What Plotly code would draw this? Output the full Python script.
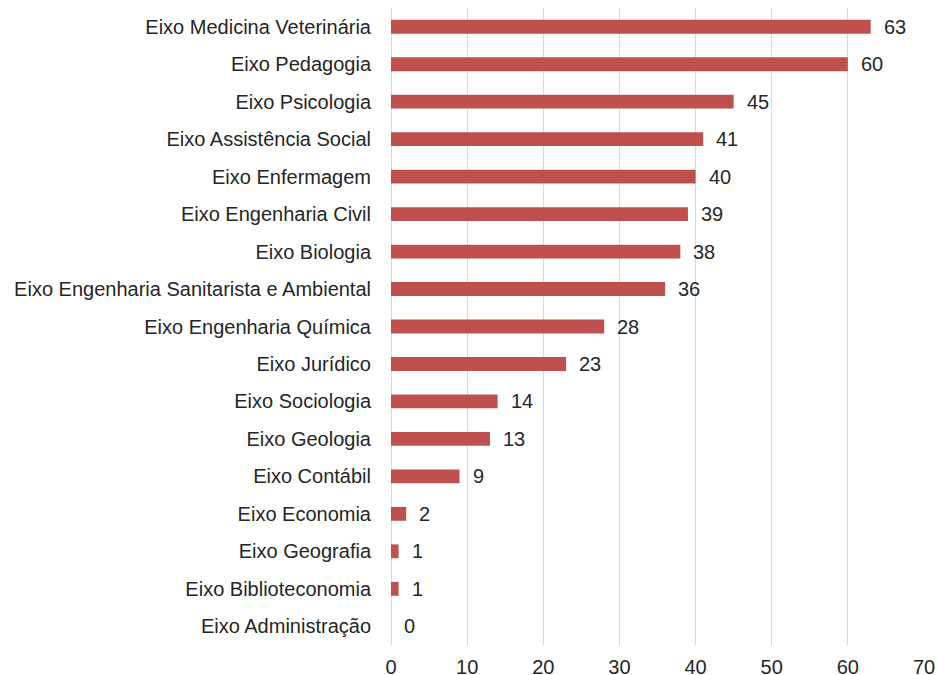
import plotly.graph_objects as go

categories = [
    "Eixo Medicina Veterinária", "Eixo Pedagogia", "Eixo Psicologia",
    "Eixo Assistência Social", "Eixo Enfermagem", "Eixo Engenharia Civil",
    "Eixo Biologia", "Eixo Engenharia Sanitarista e Ambiental",
    "Eixo Engenharia Química", "Eixo Jurídico", "Eixo Sociologia",
    "Eixo Geologia", "Eixo Contábil", "Eixo Economia", "Eixo Geografia",
    "Eixo Biblioteconomia", "Eixo Administração",
]
values = [63, 60, 45, 41, 40, 39, 38, 36, 28, 23, 14, 13, 9, 2, 1, 1, 0]
x_ticks = [0, 10, 20, 30, 40, 50, 60, 70]

FONT = "Liberation Sans, Arial"
TXT = "#262626"

fig = go.Figure(go.Bar(
    x=values, y=categories, orientation="h",
    marker=dict(color="#c0504d", line=dict(width=0)),
    width=0.37,
))

for c, v in zip(categories, values):
    fig.add_annotation(
        x=v, y=c, text=str(v), showarrow=False, xanchor="left",
        xshift=11, font=dict(family=FONT, size=20, color=TXT),
    )

fig.update_layout(
    width=951, height=675,
    margin=dict(l=383, r=35, t=0, b=38),
    plot_bgcolor="white", paper_bgcolor="white",
    font=dict(family=FONT, size=20, color=TXT),
    showlegend=False,
)
fig.update_xaxes(
    range=[0, 70], tickvals=x_ticks, showgrid=True, gridcolor="#d9d9d9",
    gridwidth=1, zeroline=True, zerolinecolor="#d9d9d9", zerolinewidth=1,
    showline=False, ticks="", ticklabelstandoff=8, automargin=False,
)
fig.update_yaxes(
    categoryorder="array", categoryarray=categories, autorange="reversed",
    showgrid=False, showline=False, ticks="", ticklabelstandoff=19,
    automargin=False,
)

fig.write_html("out.html")
